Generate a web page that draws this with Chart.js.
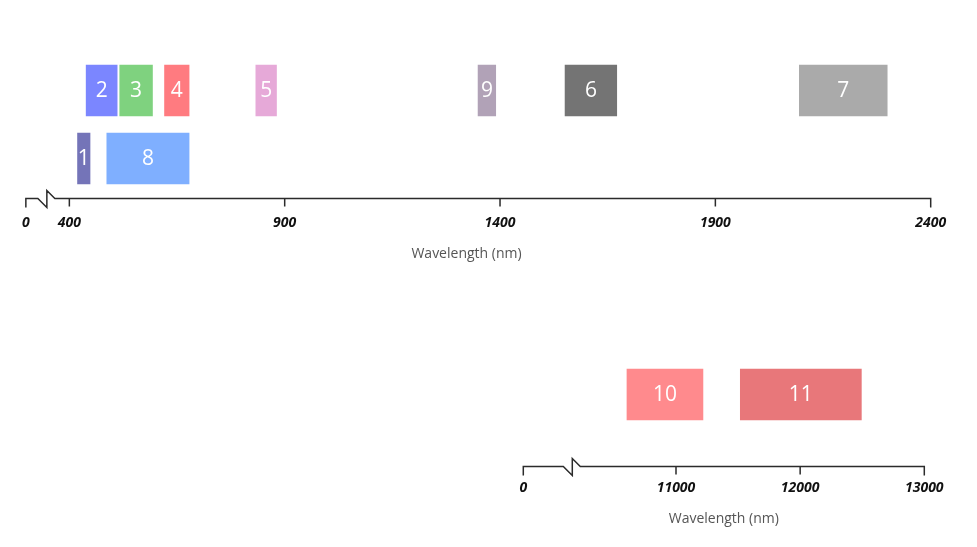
<!DOCTYPE html>
<html><head><meta charset="utf-8">
<script src="https://cdn.jsdelivr.net/npm/chart.js@4.4.1/dist/chart.umd.min.js"></script>
<style>
html,body{margin:0;padding:0;background:#fff;}
#wrap{position:relative;width:977px;height:547px;overflow:hidden;}
#c1{position:absolute;left:0;top:0;}
#c2{position:absolute;left:0;top:280px;}
</style></head><body>
<div id="wrap"><canvas id="c1" width="977" height="280"></canvas><canvas id="c2" width="977" height="267"></canvas></div>
<script>
// ---- Data: top panel (visible / NIR / SWIR bands) ----
const vnirBands  = ['2','3','4','5','9','6','7','1','8'];
const vnirStart  = [439, 517, 621, 833, 1349, 1551, 2095, 419, 487];
const vnirEnd    = [511, 593, 678, 881, 1390, 1671, 2299, 448, 678];
const vnirRow    = [0, 0, 0, 0, 0, 0, 0, 1, 1];
const vnirColors = ['#7b86ff','#7fd27f','#ff7b80','#e6a9d8','#b1a2b7','#747474','#aaaaaa','#7474b8','#7fafff'];
const vnirTicks  = [400, 900, 1400, 1900, 2400];
const vnirAxisStart = 299;   // shown as "0" after the axis break

// ---- Data: bottom panel (thermal bands) ----
const tirBands  = ['10','11'];
const tirStart  = [10605, 11518];
const tirEnd    = [11217, 12493];
const tirRow    = [0, 0];
const tirColors = ['#ff8a8d','#e8777a'];
const tirTicks  = [11000, 12000, 13000];
const tirAxisStart = 9770;   // shown as "0" after the axis break

const axisTitle = 'Wavelength (nm)';

const axisPlugin = {
  id: 'bandAxis',
  afterDraw(chart, args, o) {
    const ctx = chart.ctx, xs = chart.scales.x;
    const y = chart.chartArea.bottom + o.offset;
    const L = xs.getPixelForValue(xs.min), R = xs.getPixelForValue(xs.max);
    const b = L + o.breakAt;
    ctx.save();
    ctx.strokeStyle = '#2b2b2b';
    ctx.lineWidth = 1.5;
    ctx.lineJoin = 'miter';
    ctx.beginPath();
    ctx.moveTo(L, y + 9); ctx.lineTo(L, y); ctx.lineTo(b, y);
    ctx.lineTo(b + 9, y + 9); ctx.lineTo(b + 9, y - 8); ctx.lineTo(b + 17, y);
    ctx.lineTo(R, y); ctx.lineTo(R, y + 9);
    xs.ticks.forEach((t, i) => {
      if (i === 0 || i === xs.ticks.length - 1) return;
      const px = xs.getPixelForValue(t.value);
      ctx.moveTo(px, y); ctx.lineTo(px, y + 8);
    });
    ctx.stroke();
    ctx.fillStyle = '#555';
    ctx.font = '14px "Open Sans"';
    ctx.textAlign = 'center';
    ctx.textBaseline = 'middle';
    const tx = o.titleX != null ? o.titleX : (chart.chartArea.left + chart.chartArea.right) / 2;
    ctx.fillText(axisTitle, tx, o.titleY);
    ctx.restore();
  },
  afterDatasetsDraw(chart) {
    const ctx = chart.ctx;
    ctx.save();
    ctx.fillStyle = '#ffffff';
    ctx.font = '21px "Open Sans"';
    ctx.textAlign = 'center';
    ctx.textBaseline = 'middle';
    chart.data.datasets.forEach((ds, di) => {
      chart.getDatasetMeta(di).data.forEach((el, i) => {
        if (ds.data[i] == null) return;
        const p = el.getCenterPoint();
        ctx.fillText(ds.label, p.x, p.y + 1);
      });
    });
    ctx.restore();
  }
};

function makeChart(canvas, c) {
  const rows = c.rowLabels;
  const datasets = c.bands.map((b, i) => ({
    label: b,
    data: rows.map((r, ri) => ri === c.row[i] ? [c.start[i], c.end[i]] : null),
    backgroundColor: c.colors[i],
    borderWidth: 0,
    barThickness: 51,
    grouped: false
  }));
  const min = c.min, max = c.ticks[c.ticks.length - 1];
  return new Chart(canvas, {
    type: 'bar',
    data: { labels: rows, datasets },
    plugins: [axisPlugin],
    options: {
      indexAxis: 'y',
      responsive: false,
      animation: false,
      devicePixelRatio: 1,
      layout: { padding: c.padding },
      scales: {
        x: {
          type: 'linear', min, max,
          afterBuildTicks: s => { s.ticks = [min, ...c.ticks].map(v => ({ value: v })); },
          ticks: {
            callback: (v, i) => i === 0 ? '0' : String(v),
            font: { family: 'Open Sans', size: 14, weight: 'bold', style: 'italic' },
            color: '#111',
            padding: c.tickPad,
            autoSkip: false, maxRotation: 0
          },
          grid: { display: false, drawTicks: false },
          border: { display: false }
        },
        y: { type: 'category', labels: rows, display: false, offset: true }
      },
      plugins: {
        legend: { display: false },
        tooltip: { enabled: false },
        bandAxis: c.axis
      }
    }
  });
}

makeChart(document.getElementById('c1'), {
  rowLabels: ['a', 'b'],
  bands: vnirBands, start: vnirStart, end: vnirEnd, row: vnirRow, colors: vnirColors,
  ticks: vnirTicks, min: vnirAxisStart,
  padding: { top: 56.5, left: 24.7, right: 46.3, bottom: 26.7 },
  tickPad: 22,
  axis: { offset: 6, breakAt: 12, titleX: 466.5, titleY: 254 }
});

makeChart(document.getElementById('c2'), {
  rowLabels: ['a'],
  bands: tirBands, start: tirStart, end: tirEnd, row: tirRow, colors: tirColors,
  ticks: tirTicks, min: tirAxisStart,
  padding: { top: 48, left: 523.3, right: 52.7, bottom: 31 },
  tickPad: 19.1,
  axis: { offset: 5.5, breakAt: 40, titleX: null, titleY: 239 }
});
</script>
</body></html>
